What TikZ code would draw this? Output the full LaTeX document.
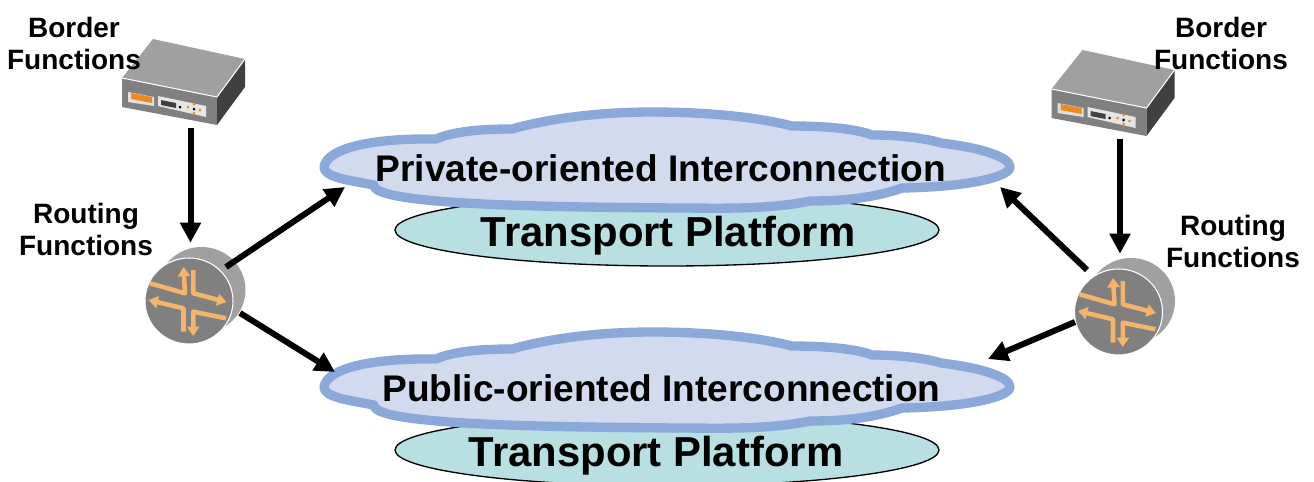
\documentclass[tikz,border=0pt]{standalone}
\usepackage{fontspec}
\setmainfont{Liberation Sans}
\usetikzlibrary{arrows.meta,positioning,shapes.geometric}
\definecolor{cloudfill}{HTML}{D2DBEE}
\definecolor{cloudline}{HTML}{8AA8D8}
\definecolor{platfill}{HTML}{B8E0E3}
\definecolor{boxtop}{HTML}{A0A0A0}
\definecolor{boxfront}{HTML}{808080}
\definecolor{boxside}{HTML}{404040}
\definecolor{boxorange}{HTML}{EE8A1E}
\definecolor{routerarrow}{HTML}{F4B56A}
\tikzset{
  flow/.style={line width=4.5pt,-{Triangle[length=15pt,width=15pt]}},
  devicenode/.style={minimum width=94.5pt,minimum height=69pt,inner sep=0pt},
  routernode/.style={circle,minimum size=78pt,inner sep=0pt},
  platform/.style={ellipse,draw=black,line width=1pt,fill=platfill,minimum width=408pt,minimum height=54pt},
  funclabel/.style={font=\fontsize{21}{24}\selectfont\bfseries,align=center},
  cloudlabel/.style={font=\fontsize{27.8}{30}\selectfont\bfseries},
  platlabel/.style={font=\fontsize{31.4}{33}\selectfont\bfseries},
  bendarrow/.style={routerarrow,line width=3.4pt,line join=round,-{Triangle[length=7pt,width=9pt]}},
  bordericon/.pic={
    \fill[boxtop] (-37.5,-43) -- (54.5,-23) -- (26.5,15) -- (-68.5,-4) -- cycle;
    \fill[boxfront] (-68.5,-4) -- (26.5,15) -- (26.5,43) -- (-68.5,25) -- cycle;
    \fill[boxside] (54.5,-23) -- (54.5,5) -- (26.5,43) -- (26.5,15) -- cycle;
    \draw[white,line width=0.8pt] (-68.5,-4) -- (26.5,15) -- (54.5,-23);
    \fill[black!12] (-62.5,10) -- (-36.5,15) -- (-36.5,24) -- (-62.5,20) -- cycle;
    \fill[boxorange] (-59.5,11) -- (-38.5,15) -- (-38.5,21) -- (-59.5,17) -- cycle;
    \fill[black!10] (-32.5,14) -- (15.5,24) -- (15.5,35) -- (-32.5,24) -- cycle;
    \fill[boxside] (-29.5,18) -- (-14.5,21) -- (-14.5,26) -- (-29.5,23) -- cycle;
    \fill[black] (-10.5,25) circle (1.5);
    \fill[black] (3.5,27) circle (1.5);
    \foreach \dotx/\doty in {-2.5/25,3.5/22,9.5/28,3.5/31}
      \fill[boxorange] (\dotx,\doty) circle (1.5);
  },
  routericon/.pic={
    \fill[boxtop] (11,-5) ellipse (44 and 43);
    \draw[white,line width=0.8pt,fill=boxfront] (-1.5,6) ellipse (44 and 43);
    \draw[bendarrow] (-40.5,-11.7) -- (-5.5,-1.7) -- (-7,-28);
    \draw[bendarrow] (2.8,-25) -- (2.8,-1.7) -- (36,7);
    \draw[bendarrow] (35.5,23.3) -- (2.8,16.7) -- (2.8,41);
    \draw[bendarrow] (-7,36.7) -- (-7,13.3) -- (-42,5);
  },
  cloudshape/.pic={
    \draw[cloudline,fill=cloudfill,line width=7pt,line join=round]
      (-343,2) .. controls (-340,-18) and (-290,-27) .. (-231,-26)
      .. controls (-215,-33) and (-190,-36) .. (-155,-36)
      .. controls (-120,-46) and (-70,-53) .. (-15,-53)
      .. controls (40,-53) and (90,-48) .. (125,-39)
      .. controls (160,-39) and (190,-36) .. (205,-30)
      .. controls (235,-30) and (262,-26) .. (274,-22)
      .. controls (315,-17) and (343,-8) .. (343,2)
      .. controls (343,12) and (300,22) .. (235,23)
      .. controls (210,32) and (180,36) .. (143,36)
      .. controls (100,45) and (50,43) .. (10,43)
      .. controls (-120,42) and (-295,40) .. (-293,20)
      .. controls (-320,15) and (-343,12) .. (-343,2) -- cycle;
    \coordinate (-sw) at (-322,22);
    \coordinate (-se) at (333,22);
    \coordinate (-nw) at (-332,-13);
    \coordinate (-ne) at (321,-26);
  },
}
\begin{document}
\begin{tikzpicture}[x=0.75pt,y=0.75pt,yscale=-1,xscale=1]
\useasboundingbox (0,0) rectangle (1314,482);

% Transport platforms
\node[platform] (platPriv) at (667,230) {};
\node[platform] (platPub) at (667,450) {};

% Clouds
\pic[transform shape] (cloudPriv) at (667,165) {cloudshape};
\pic[transform shape] (cloudPub) at (667,385) {cloudshape};

% Devices
\node[devicenode] (borderL) at (190.5,82) {};
\pic[transform shape] at (borderL.center) {bordericon};
\node[devicenode] (borderR) at (1120,93) {};
\pic[transform shape] at (borderR.center) {bordericon};
\node[routernode] (routerL) at (190.5,295) {};
\pic[transform shape] at (routerL.center) {routericon};
\node[routernode] (routerR) at (1120,306) {};
\pic[transform shape] at (routerR.center) {routericon};

% Text Node
\node[cloudlabel] (textPriv) at (661,168) {Private-oriented Interconnection};
\node[cloudlabel] (textPub) at (661.5,388) {Public-oriented Interconnection};
\node[platlabel] (textPlatA) at (668,236) {Transport Platform};
\node[platlabel] (textPlatB) at (656,456) {Transport Platform};
\node[funclabel] (labBorderL) at (74,43) {Border\\Functions};
\node[funclabel] (labBorderR) at (1221,43) {Border\\Functions};
\node[funclabel] (labRoutingL) at (86,229) {Routing\\Functions};
\node[funclabel] (labRoutingR) at (1233,241) {Routing\\Functions};

% Arrows
\draw[flow] (borderL.south) -- (routerL.north);
\draw[flow] (borderR.south) -- (routerR.north);
\draw[flow] ([shift={(35.5,-28)}]routerL.center) -- (cloudPriv-sw);
\draw[flow] ([shift={(49.5,18)}]routerL.center) -- (cloudPub-nw);
\draw[flow] ([shift={(-33,-36)}]routerR.center) -- (cloudPriv-se);
\draw[flow] ([shift={(-45,16)}]routerR.center) -- (cloudPub-ne);
\end{tikzpicture}
\end{document}
